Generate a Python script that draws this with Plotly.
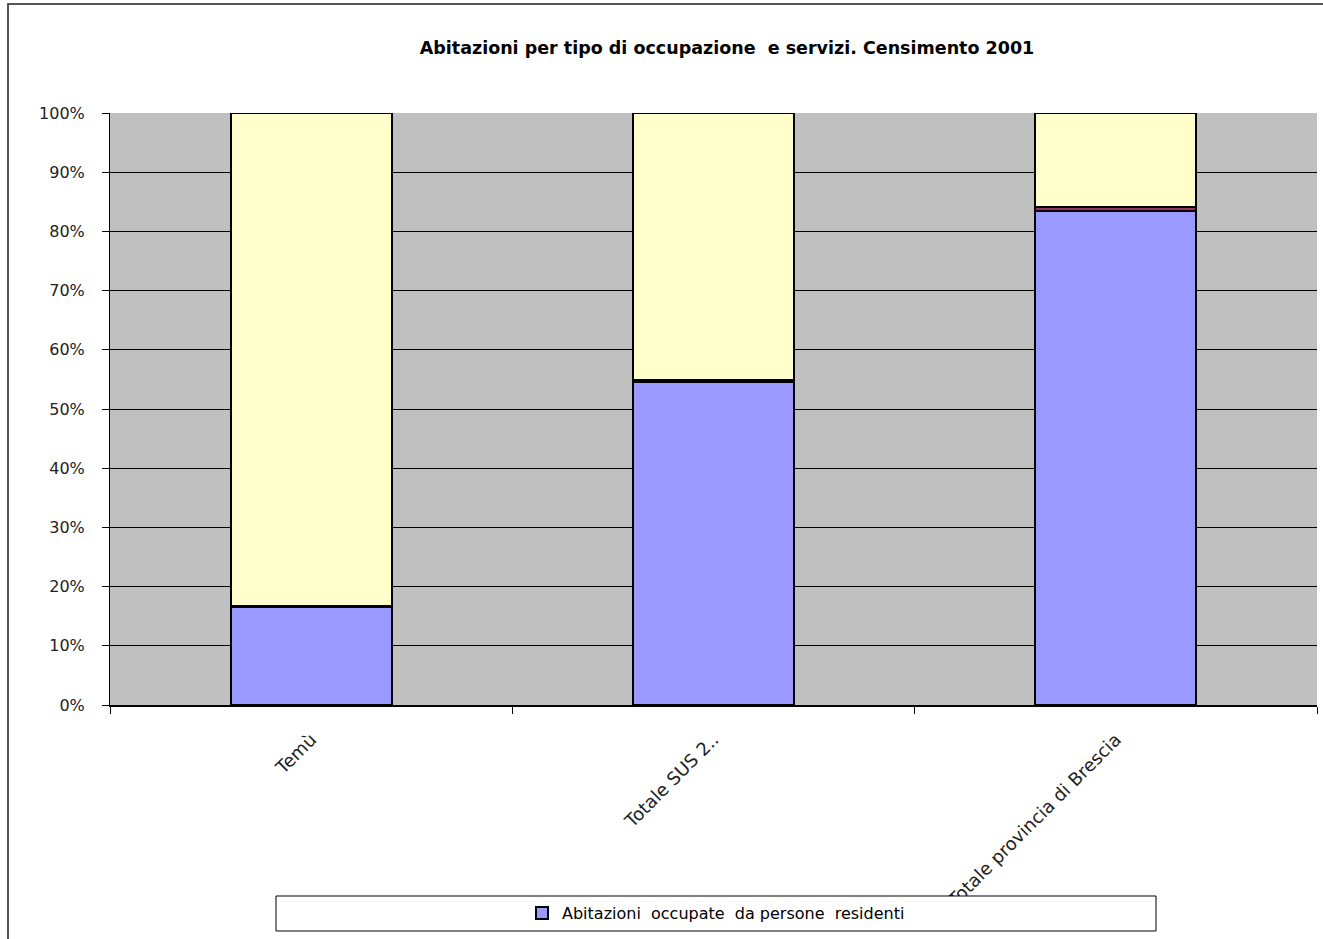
import plotly.graph_objects as go

# Censimento 2001 - quote percentuali per tipo di occupazione
categorie = ["Temù", "Totale SUS 2..", "Totale provincia di Brescia"]
residenti = [16.5, 54.6, 83.5]
non_residenti = [0.2, 0.25, 0.7]
non_occupate = [83.3, 45.15, 15.8]

fig = go.Figure()
fig.add_bar(x=categorie, y=residenti, name="Abitazioni  occupate  da persone  residenti",
            marker=dict(color="#9999FF", line=dict(color="black", width=2)))
fig.add_bar(x=categorie, y=non_residenti, name="Abitazioni occupate da persone non residenti",
            marker=dict(color="#993366", line=dict(color="black", width=2)), showlegend=False)
fig.add_bar(x=categorie, y=non_occupate, name="Abitazioni non occupate",
            marker=dict(color="#FFFFCC", line=dict(color="black", width=2)), showlegend=False)

# helpers to convert pixel positions of the decorations into paper coords
L, R, T, B = 110, 1317, 113, 705
def px(x):
    return (x - L) / (R - L)
def py(y):
    return (B - y) / (B - T)

fig.update_layout(
    width=1323, height=939,
    margin=dict(l=L, r=1323 - R, t=T, b=939 - B),
    barmode="stack", barnorm="percent", bargap=0.6,
    plot_bgcolor="#C0C0C0", paper_bgcolor="white",
    font=dict(family="DejaVu Sans", size=16, color="black"),
    title=dict(text="<b>Abitazioni per tipo di occupazione  e servizi. Censimento 2001</b>",
               x=727 / 1323, xanchor="center", y=1 - 48 / 939, yanchor="middle",
               font=dict(size=17.5, color="black")),
    showlegend=True,
    legend=dict(orientation="h", x=px(716), xanchor="center", y=py(913), yanchor="middle",
                bgcolor="rgba(0,0,0,0)", font=dict(size=16)),
    shapes=[
        dict(type="rect", xref="paper", yref="paper", x0=px(8), x1=px(1335), y0=py(950), y1=py(4),
             line=dict(color="#555555", width=2), fillcolor="rgba(0,0,0,0)", layer="below"),
        dict(type="rect", xref="paper", yref="paper", x0=px(276), x1=px(1156), y0=py(931), y1=py(896),
             line=dict(color="black", width=1), fillcolor="white", layer="above"),
    ],
)
fig.update_yaxes(range=[0, 100], dtick=10, ticksuffix="%", showgrid=True, gridcolor="black",
                 gridwidth=1, showline=True, linecolor="black", linewidth=1,
                 ticks="outside", ticklen=7, tickcolor="black", zeroline=False,
                 ticklabelstandoff=14, tickfont=dict(size=16, color="#222"))
fig.update_xaxes(showline=True, linecolor="black", linewidth=2, ticks="outside", ticklen=7,
                 tickcolor="black", tickson="boundaries", tickangle=-45, showgrid=False,
                 ticklabelstandoff=15, tickfont=dict(size=18, color="#222"))

fig.write_html("out.html", config={"displayModeBar": False},
               post_script="document.body.style.margin='0px';")
